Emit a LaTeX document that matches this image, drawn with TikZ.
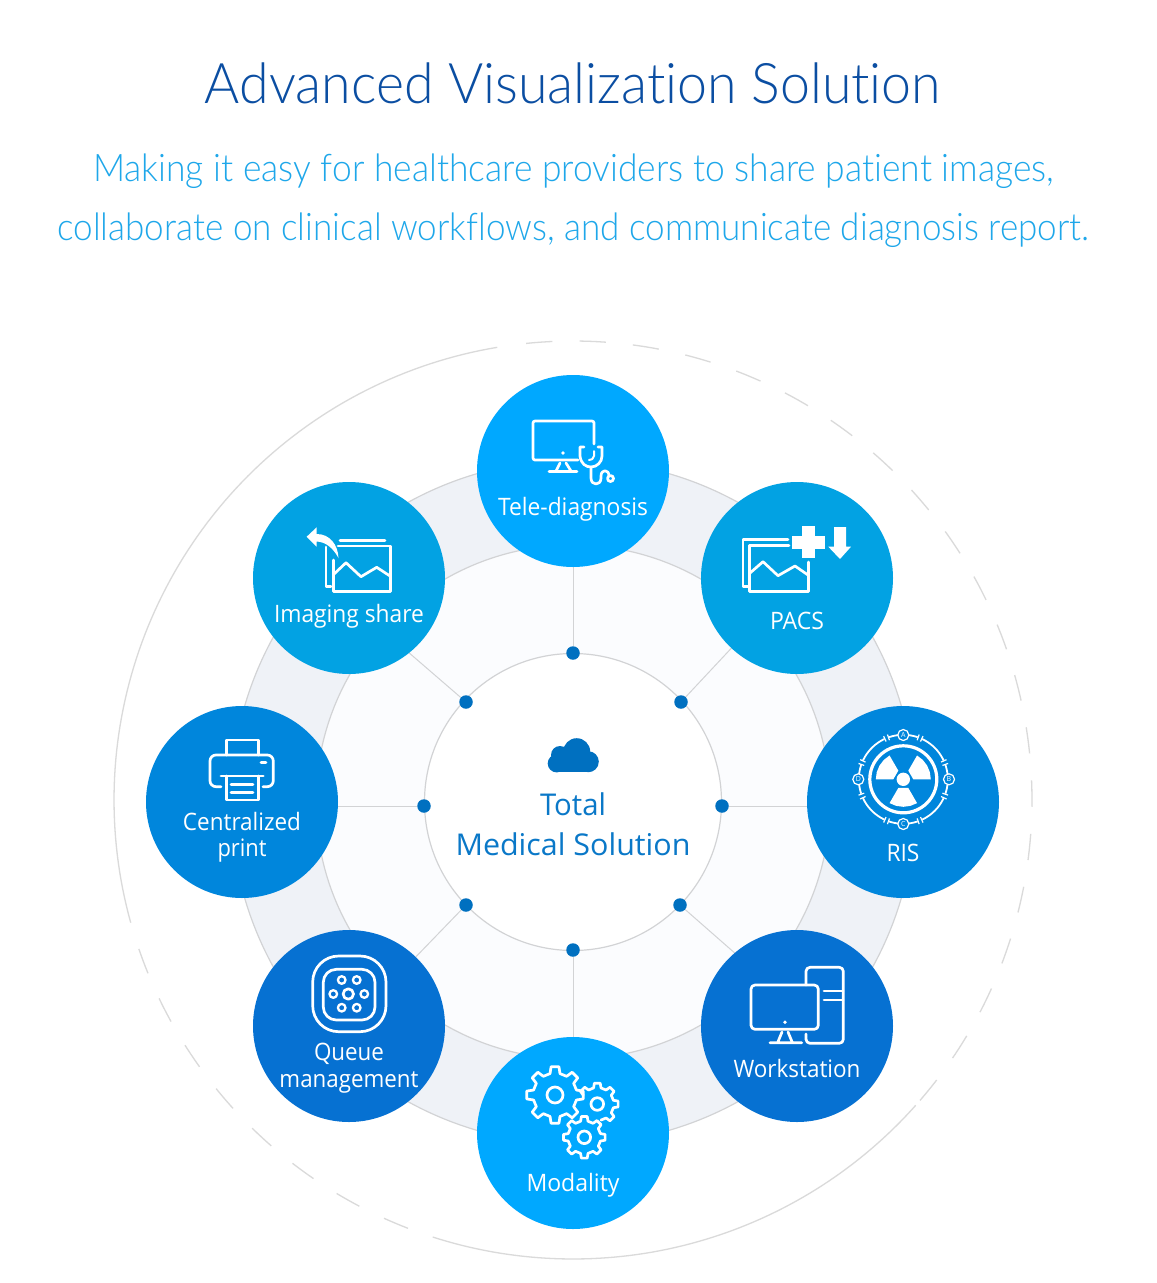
\documentclass[tikz,border=0pt]{standalone}
\usepackage{fontspec}
\usepackage{graphicx}
\setmainfont{Open Sans}
\newfontfamily\lightf[Ligatures=NoCommon]{Lato Light}
\usetikzlibrary{calc}
\pgfdeclarelayer{bg}
\pgfsetlayers{bg,main}
\definecolor{cTele}{HTML}{00A8FF}
\definecolor{cPacs}{HTML}{02A2E3}
\definecolor{cRis}{HTML}{0086DC}
\definecolor{cWork}{HTML}{0671D2}
\definecolor{cDot}{HTML}{0070C0}
\definecolor{cTitle}{HTML}{0B4EA2}
\definecolor{cSub}{HTML}{1EA7EA}
\definecolor{cMid}{HTML}{0A78C8}
\definecolor{cRing}{HTML}{EFF2F7}
\definecolor{cPale}{HTML}{FBFCFE}
\definecolor{cEdge}{HTML}{D2D3D5}
\definecolor{cOut}{HTML}{DADADA}
\newcommand{\fit}[3]{\resizebox{#1pt}{\height}{\fontsize{#2}{#2}\selectfont #3}}
\newcommand{\gearline}[7]{%
  % cx cy R r startindex endindex rot
  \draw[ico] ({#1+#4*cos(#7+#5*45-13)},{#2+#4*sin(#7+#5*45-13)})
  \foreach \i in {#5,...,#6}{
    -- ({#1+#4*cos(#7+\i*45-13)},{#2+#4*sin(#7+\i*45-13)})
    -- ({#1+#3*cos(#7+\i*45-8)},{#2+#3*sin(#7+\i*45-8)})
    -- ({#1+#3*cos(#7+\i*45+8)},{#2+#3*sin(#7+\i*45+8)})
    -- ({#1+#4*cos(#7+\i*45+13)},{#2+#4*sin(#7+\i*45+13)})
    -- ({#1+#4*cos(#7+\i*45+32)},{#2+#4*sin(#7+\i*45+32)})
  };}
\tikzset{
  hub/.style={circle,minimum size=192pt,inner sep=0pt,outer sep=0pt},
  dotn/.style={circle,fill=cDot,minimum size=13.5pt,inner sep=0pt,outer sep=0pt},
  lab/.style={text=white,anchor=base,inner sep=0pt,outer sep=0pt},
  ico/.style={draw=white,line width=2.7pt,line join=round,line cap=round,fill=none},
  spoke/.style={draw=cEdge,line width=1pt},
  ringl/.style={draw=cEdge,line width=1.2pt},
  outs/.style={draw=cOut,line width=1.3pt},
  outd/.style={draw=cOut,line width=1.3pt,dash pattern=on 26pt off 27.5pt,dash phase=26pt},
  outr/.style={draw=cOut,line width=1.3pt,dash pattern=on 26.3pt off 27.15pt,dash phase=46.85pt}
}
\begin{document}
\begin{tikzpicture}[x=1pt,y=-1pt]
\begin{pgfonlayer}{bg}
\fill[white] (0,0) rectangle (1157,1283);
\end{pgfonlayer}
\useasboundingbox (0,0) rectangle (1157,1283);
% titles
\node[anchor=base,inner sep=0pt,text=cTitle] (title) at (573,103) {\lightf\fit{736}{56}{Advanced Visualization Solution}};
\node[anchor=base,inner sep=0pt,text=cSub] (sub1) at (573.5,181) {\lightf\fit{961}{38}{Making it easy for healthcare providers to share patient images,}};
\node[anchor=base,inner sep=0pt,text=cSub] (sub2) at (573.5,240) {\lightf\fit{1032}{38}{collaborate on clinical workflows, and communicate diagnosis report.}};
% hubs
\node[hub,fill=cTele] (tele) at (573,471) {};
\node[hub,fill=cPacs] (pacs) at (797,578) {};
\node[hub,fill=cRis] (ris) at (903,802) {};
\node[hub,fill=cWork] (work) at (797,1026) {};
\node[hub,fill=cTele] (moda) at (573,1133) {};
\node[hub,fill=cWork] (queue) at (349,1026) {};
\node[hub,fill=cRis] (print) at (242,802) {};
\node[hub,fill=cPacs] (imag) at (349,578) {};
% dots
\node[dotn] (d1) at (573,653) {};
\node[dotn] (d2) at (681,702) {};
\node[dotn] (d3) at (722,806) {};
\node[dotn] (d4) at (680,905) {};
\node[dotn] (d5) at (573,950) {};
\node[dotn] (d6) at (466,905) {};
\node[dotn] (d7) at (424,806) {};
\node[dotn] (d8) at (466,702) {};
\coordinate (e3) at (820,806);
\coordinate (e7) at (330,806);
\coordinate (e4) at (745,962);
\coordinate (e8) at (400,645);
\begin{pgfonlayer}{bg}
% outer circle
\draw[outs] plot[domain=164.5:260.5,samples=90,variable=\t] ({573+459*cos(\t)},{800+459*sin(\t)});
\draw[outs] plot[domain=41.7:107.8,samples=70,variable=\t] ({573+459*cos(\t)},{800+459*sin(\t)});
\draw[outd] plot[domain=164.5:107.8,samples=70,variable=\t] ({573+459*cos(\t)},{800+459*sin(\t)});
\draw[outr] plot[domain=41.7:-99.1,samples=140,variable=\t] ({573+459*cos(\t)},{800+459*sin(\t)});
% rings
\draw[ringl,fill=cRing] (573,802) circle[radius=342];
\draw[ringl,fill=cPale] (573,802) circle[radius=257];
\draw[ringl,fill=white] (573,802) circle[radius=148.5];
% spokes
\draw[spoke] (d1) -- (tele);
\draw[spoke] (d2) -- (pacs);
\draw[spoke] (d3) -- (e3);
\draw[spoke] (d4) -- (e4);
\draw[spoke] (d5) -- (moda);
\draw[spoke] (d6) -- (queue);
\draw[spoke] (d7) -- (e7);
\draw[spoke] (d8) -- (e8);
\end{pgfonlayer}
% labels
\node[lab] (ltele) at (573,515) {\fit{150}{24}{Tele-diagnosis}};
\node[lab] (lpacs) at (797,629) {\fit{54}{24}{PACS}};
\node[lab] (lris) at (903,861) {\fit{33}{24}{RIS}};
\node[lab] (lwork) at (797,1077) {\fit{127}{24}{Workstation}};
\node[lab] (lmoda) at (573,1191) {\fit{93}{24}{Modality}};
\node[lab] (lq1) at (349,1060) {\fit{70}{24}{Queue}};
\node[lab] (lq2) at (349,1087) {\fit{139}{24}{management}};
\node[lab] (lc1) at (242,830) {\fit{118}{24}{Centralized}};
\node[lab] (lc2) at (242,856) {\fit{49}{24}{print}};
\node[lab] (limag) at (349,622) {\fit{150}{24}{Imaging share}};
\node[lab,text=cMid] (lt1) at (573,815) {\fit{66}{30}{Total}};
\node[lab,text=cMid] (lt2) at (573,855) {\fit{235}{30}{Medical Solution}};
% cloud
\fill[cDot] (560,755) circle[radius=9];
\fill[cDot] (576.7,751.7) circle[radius=13.5];
\fill[cDot] (588.3,761.7) circle[radius=10.5];
\fill[cDot] (556.7,763.4) circle[radius=9];
\fill[cDot] (556.7,757) rectangle (588.3,772.4);
% tele icon
\draw[ico] (594,444) -- (594,423) arc[start angle=0,end angle=-90,radius=2] -- (535,421) arc[start angle=-90,end angle=-180,radius=2] -- (533,458) arc[start angle=180,end angle=90,radius=2] -- (578,460);
\fill[white] (563,453) circle[radius=1.8];
\draw[ico] (549,471.5) -- (577,471.5) (560,463) -- (556,471) (566,463) -- (571,471);
\draw[ico] (584,447) -- (580,447) -- (580,456) .. controls (581,464) and (586,467) .. (591,467) .. controls (597,467) and (602,462) .. (602,456) -- (602,447) -- (598,447);
\draw[ico] (591,467) -- (591,478) .. controls (591,486) and (601,486) .. (601,478) -- (601,476) .. controls (601,469) and (609,469) .. (609,476);
\draw[ico] (610.5,478.5) circle[radius=3];
\draw[ico,line width=2pt] (594,451) -- (594,456) .. controls (594,459) and (591,460) .. (589,460);
% pacs icon
\draw[ico] (788,539.5) -- (743,539.5) -- (743,586.5) -- (748,586.5);
\draw[ico] (789,545.7) -- (749.3,545.7) -- (749.3,591.7) -- (808.3,591.7) -- (808.3,562);
\draw[ico] (750,573) -- (763,561.7) -- (778,575.7) -- (795,566) -- (808,575);
\fill[white] (801.5,526) rectangle (814.5,558);
\fill[white] (791.5,535.5) rectangle (825,548.5);
\fill[white] (834,527) -- (846,527) -- (846,546.7) -- (851,546.7) -- (840,559) -- (828.3,546.7) -- (834,546.7) -- cycle;
% imaging icon
\draw[ico] (338,546) -- (390.7,546) -- (390.7,591.7) -- (333.3,591.7) -- (333.3,560);
\draw[ico] (340,540.7) -- (385,540.7);
\draw[ico] (326,547) -- (326,586.5) -- (331,586.5);
\draw[ico] (333,575) -- (346,562.7) -- (361,576.7) -- (376.7,567.3) -- (390,576);
\fill[white] (306.7,536.7) -- (316.7,527.3) -- (316.7,534) .. controls (330,534) and (338,545) .. (338.5,558) .. controls (333,548) and (326,542) .. (316.7,541.5) -- (316.7,546.7) -- cycle;
% print icon
\draw[ico] (226.7,755) -- (226.7,740) -- (258.3,740) -- (258.3,755);
\draw[ico,rounded corners=6pt] (221,786.7) -- (210,786.7) -- (210,755) -- (273.3,755) -- (273.3,786.7) -- (263,786.7);
\draw[ico] (221,776) -- (263.3,776);
\draw[ico] (226.7,776) -- (226.7,800) -- (258.3,800) -- (258.3,776);
\draw[ico] (231,784.3) -- (253,784.3) (231,792.3) -- (253,792.3);
\draw[ico] (261,762.3) -- (266,762.3);
% queue icon
\draw[ico,rounded corners=26pt] (312.7,956) rectangle (386,1031.7);
\draw[ico,rounded corners=13pt] (323.3,969.3) rectangle (375,1020);
\draw[ico] (348.3,994) circle[radius=5.2];
\foreach \px/\py in {341.7/980,356.7/980,333.3/994,364.3/994,341.7/1007.7,356.7/1007.7}
  \draw[ico,line width=2.3pt] (\px,\py) circle[radius=3.8];
% workstation icon
\draw[ico,rounded corners=4pt] (751,985) rectangle (818.3,1029.3);
\fill[white] (785,1022.3) circle[radius=1.9];
\draw[ico] (770,1042.7) -- (801.7,1042.7) (782,1032) -- (778,1041.7) (788,1032) -- (792,1041.7);
\draw[ico,rounded corners=4pt] (806,985) -- (806,967.3) -- (843.3,967.3) -- (843.3,1043.3) -- (806,1043.3) -- (806,1034);
\draw[ico] (824,991) -- (843,991) (824,1000) -- (843,1000);
% modality gears
\gearline{555}{1095}{28.5}{22}{0}{7}{0}
\draw[ico] (555,1095) circle[radius=8];
\gearline{597.3}{1104}{21}{16.5}{-3}{1}{0}
\draw[ico] (597.3,1104) circle[radius=6.3];
\gearline{584.3}{1137.3}{21}{16.5}{0}{7}{0}
\draw[ico] (584.3,1137.3) circle[radius=6.3];
% ris icon
\draw[ico,line width=3.2pt] (903.3,779.3) circle[radius=33.5];
\fill[white] (903.3,779.3) circle[radius=6.7];
\foreach \a in {210,330,90}{
  \fill[white] ({903.3+10*cos(\a-30)},{779.3+10*sin(\a-30)}) -- ({903.3+27.5*cos(\a-30)},{779.3+27.5*sin(\a-30)})
   -- ({903.3+27.5*cos(\a-15)},{779.3+27.5*sin(\a-15)}) -- ({903.3+27.5*cos(\a)},{779.3+27.5*sin(\a)}) -- ({903.3+27.5*cos(\a+15)},{779.3+27.5*sin(\a+15)}) -- ({903.3+27.5*cos(\a+30)},{779.3+27.5*sin(\a+30)}) -- ({903.3+10*cos(\a+30)},{779.3+10*sin(\a+30)}) -- cycle;
}
\draw[ico,line width=1.8pt] plot[domain=0:360,samples=90,variable=\t] ({903.3+44.5*cos(\t)},{779.3+44.5*sin(\t)});
\foreach \a in {-112,-68,-22,22,68,112,158,202}{
  \draw[draw=cRis,line width=3.4pt,line cap=butt] ({903.3+44.5*cos(\a-3)},{779.3+44.5*sin(\a-3)}) -- ({903.3+44.5*cos(\a+3)},{779.3+44.5*sin(\a+3)});
  \draw[white,line width=1.2pt] ({903.3+41.5*cos(\a-2.5)},{779.3+41.5*sin(\a-2.5)}) -- ({903.3+47.5*cos(\a-2.5)},{779.3+47.5*sin(\a-2.5)});
  \draw[white,line width=1.2pt] ({903.3+41.5*cos(\a+2.5)},{779.3+41.5*sin(\a+2.5)}) -- ({903.3+47.5*cos(\a+2.5)},{779.3+47.5*sin(\a+2.5)});
}
\foreach \nm/\cx/\cy/\tx in {ra/903.3/735/A,rb/949/779.3/B,rc/903.3/824/C,rd/858.3/779.3/D}{
  \node[circle,draw=white,fill=cRis,line width=1.2pt,minimum size=11pt,inner sep=0pt,text=white] (\nm) at (\cx,\cy) {\fontsize{7}{7}\selectfont \tx};
}
\end{tikzpicture}
\end{document}
